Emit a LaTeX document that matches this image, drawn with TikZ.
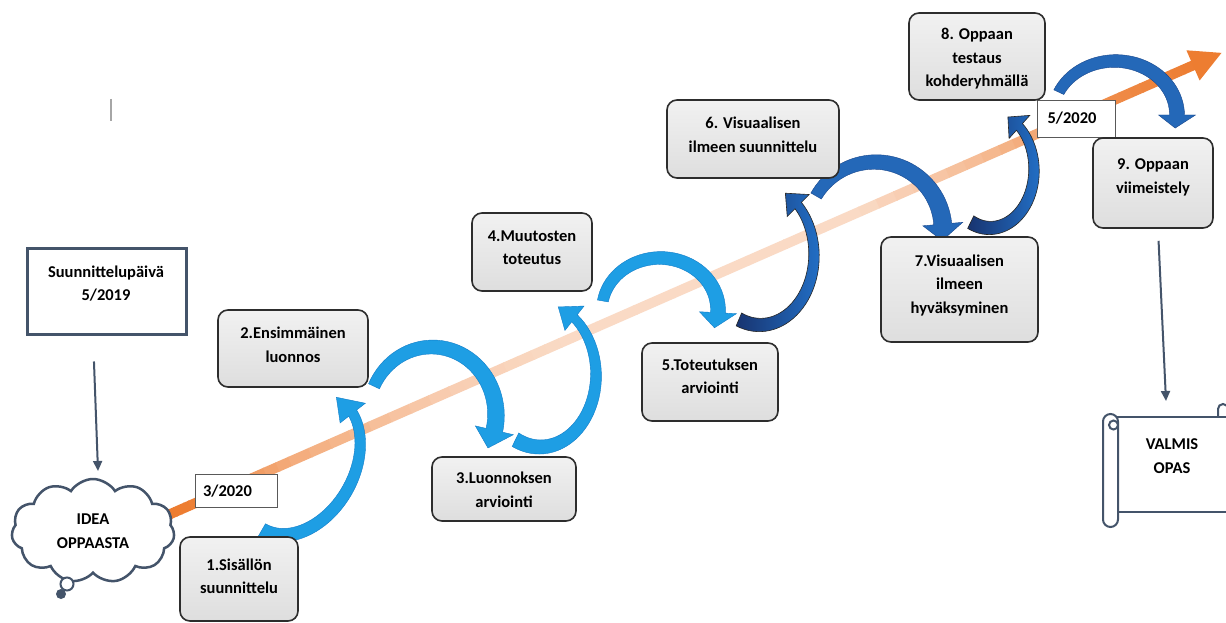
\documentclass[tikz,border=0pt]{standalone}
\usepackage{fontspec}
\setmainfont{Carlito}
\usetikzlibrary{shapes.symbols, arrows.meta}
\definecolor{tlorange}{RGB}{237,125,49}
\definecolor{tlpeach}{RGB}{251,228,213}
\definecolor{slate}{RGB}{68,84,106}
\definecolor{boxline}{RGB}{45,45,45}
\definecolor{boxtop}{RGB}{241,241,241}
\definecolor{boxbot}{RGB}{222,222,222}
\definecolor{lblue}{RGB}{30,158,228}
\definecolor{lblue2}{RGB}{18,125,200}
\definecolor{dblue}{RGB}{36,104,184}
\definecolor{dblue2}{RGB}{24,70,140}
\definecolor{navyb}{RGB}{24,52,112}
\definecolor{midb}{RGB}{34,110,196}
\newcommand\carrow[9]{%
  \pgfmathsetmacro\cahw{0.5*(#9)+11}%
  \path[shift={(#2)}, #1]
    plot[domain=#5:#6, samples=40, variable=\t]
      ({((#3)+((#8)+((#9)-(#8))*(\t-(#5))/((#6)-(#5)))/2)*cos(\t)},
       {((#4)+((#8)+((#9)-(#8))*(\t-(#5))/((#6)-(#5)))/2)*sin(\t)})
    -- ({((#3)+\cahw)*cos(#6)}, {((#4)+\cahw)*sin(#6)})
    -- ({(#3)*cos(#7)}, {(#4)*sin(#7)})
    -- ({((#3)-\cahw)*cos(#6)}, {((#4)-\cahw)*sin(#6)})
    -- plot[domain=#6:#5, samples=40, variable=\t]
      ({((#3)-((#8)+((#9)-(#8))*(\t-(#5))/((#6)-(#5)))/2)*cos(\t)},
       {((#4)-((#8)+((#9)-(#8))*(\t-(#5))/((#6)-(#5)))/2)*sin(\t)})
    -- cycle;
}
\begin{document}
\begin{tikzpicture}[x=1pt, y=-1pt,
  stepbox/.style={draw=boxline, line width=1.6pt, rounded corners=10pt, top color=boxtop, bottom color=boxbot},
  boxtext/.style={font=\bfseries\fontsize{16.5}{23.5}\selectfont, align=center, inner sep=0pt, text=black},
  datebox/.style={draw=black!65, line width=0.8pt, fill=white, inner sep=0pt},
  planbox/.style={draw=slate, line width=3pt, fill=white, inner sep=0pt},
  conn/.style={draw=slate, line width=2pt, -{Triangle[length=10pt,width=9pt]}},
  lightarr/.style={fill=lblue, draw=lblue2, line width=0.4pt},
  darkarr/.style={fill=dblue, draw=dblue2, line width=0.4pt},
  navyarr/.style={left color=navyb, right color=midb, draw=black!85, line width=0.6pt},
  scrollline/.style={draw=slate, line width=2pt}]
\fill[white] (0,0) rectangle (1226,623);
\useasboundingbox (0,0) rectangle (1226,623);

% cursor mark
\draw[gray!70, line width=1.2pt] (111,99) -- (111,121);

% timeline
\foreach \xa/\pa/\xb/\pb in {150/100/190/100, 190/100/290/55, 290/55/450/22, 450/22/560/10, 560/10/860/10, 860/10/1000/45, 1000/45/1110/85, 1110/85/1193/100}{
  \foreach \k in {0,...,7}{
    \pgfmathsetmacro\xs{\xa+(\xb-\xa)*\k/8}
    \pgfmathsetmacro\xe{\xa+(\xb-\xa)*(\k+1)/8+0.8}
    \pgfmathtruncatemacro\pp{round(\pa+(\pb-\pa)*(\k+0.5)/8)}
    \draw[line width=10pt, color=tlorange!\pp!tlpeach] (\xs,{512-0.4387*(\xs-175)}) -- (\xe,{512-0.4387*(\xe-175)});
  }
}
\fill[tlorange] (1221.5,52.9) -- (1199.6,80.5) -- (1186.4,50.3) -- cycle;

% curved arrows
\carrow{lightarr, rotate=-30}{300,464}{54}{76}{90}{-68}{-92}{14}{10}
\carrow{lightarr}{432,415}{64}{68}{-155}{13}{29}{12}{17}
\carrow{lightarr}{540,375}{56}{72}{116}{-52}{-71}{15}{9}
\carrow{lightarr}{660,310}{58}{52}{-170}{3}{20}{11}{15}
\carrow{navyarr}{760,255}{54}{70}{113}{-45}{-62}{14}{9}
\carrow{darkarr}{875,230}{68}{68}{-150}{-5}{9}{12}{18}
\carrow{navyarr}{990,170}{44}{58}{116}{-48}{-66}{14}{9}
\carrow{darkarr}{1115,115}{62}{54}{-155}{0}{14}{11}{15}

% planning date box
\node[planbox, minimum width=159pt, minimum height=86pt] (suun) at (106.5,291) {};
\node[boxtext] (suuntext) at (106,283.5) {Suunnittelupäivä\\5/2019};

% idea cloud
\node[cloud, cloud puffs=11, cloud puff arc=115, aspect=1.6, draw=slate, line width=2.5pt, fill=white,
      minimum width=163pt, minimum height=104pt, inner sep=0pt, boxtext] (idea) at (93,531) {IDEA\\OPPAASTA};
\draw[slate, line width=2pt, fill=white] (67,584) circle (6.5);
\fill[slate] (61,594) circle (5);

% date boxes
\node[datebox, minimum width=82pt, minimum height=33pt] (d1) at (236,490.5) {};
\node[boxtext] (dt1) at (227.5,491) {3/2020};
\node[datebox, minimum width=78pt, minimum height=37pt] (d2) at (1076,118.5) {};
\node[boxtext] (dt2) at (1072,118) {5/2020};

% step boxes
\node[stepbox, minimum width=118pt, minimum height=84pt] (b1) at (239,579) {};
\node[boxtext] (t1) at (239,576.5) {1.Sisällön\\suunnittelu};
\node[stepbox, minimum width=150pt, minimum height=77pt] (b2) at (293,348.5) {};
\node[boxtext] (t2) at (293,345) {2.Ensimmäinen\\luonnos};
\node[stepbox, minimum width=144pt, minimum height=64pt] (b3) at (504,489) {};
\node[boxtext] (t3) at (504,490) {3.Luonnoksen\\arviointi};
\node[stepbox, minimum width=120pt, minimum height=78pt] (b4) at (532,252) {};
\node[boxtext] (t4) at (532,247.5) {4.Muutosten\\toteutus};
\node[stepbox, minimum width=136pt, minimum height=78pt] (b5) at (710,382) {};
\node[boxtext] (t5) at (710,376.5) {5.Toteutuksen\\arviointi};
\node[stepbox, minimum width=172pt, minimum height=78pt] (b6) at (753,139) {};
\node[boxtext] (t6) at (753,135) {6. Visuaalisen\\ilmeen suunnittelu};
\node[stepbox, minimum width=157pt, minimum height=105pt] (b7) at (959.5,289.5) {};
\node[boxtext] (t7) at (959.5,285.5) {7.Visuaalisen\\ilmeen\\hyväksyminen};
\node[stepbox, minimum width=136pt, minimum height=87pt] (b8) at (977,56.5) {};
\node[boxtext] (t8) at (977,59) {8. Oppaan\\testaus\\kohderyhmällä};
\node[stepbox, minimum width=120pt, minimum height=90pt] (b9) at (1153,183) {};
\node[boxtext] (t9) at (1153,177.5) {9. Oppaan\\viimeistely};

% scroll
\draw[scrollline, fill=white] (1111,417) rectangle (1240,512);
\draw[scrollline, fill=white, rounded corners=7.5pt] (1103,414) rectangle (1118,527);
\draw[scrollline] (1113.5,425) circle (4.5);
\draw[scrollline] (1218,417) -- (1218,409) arc[start angle=180, end angle=360, radius=5];
\node[boxtext] (opas) at (1172,456) {VALMIS\\OPAS};

% connectors
\coordinate (cloudtop) at (98,471);
\draw[conn, shorten <=26pt] ([xshift=-13.5pt]suun.south) -- (cloudtop);
\coordinate (scrolltop) at (1166,401);
\draw[conn, shorten <=12pt] ([xshift=5pt]b9.south) -- (scrolltop);
\end{tikzpicture}
\end{document}
